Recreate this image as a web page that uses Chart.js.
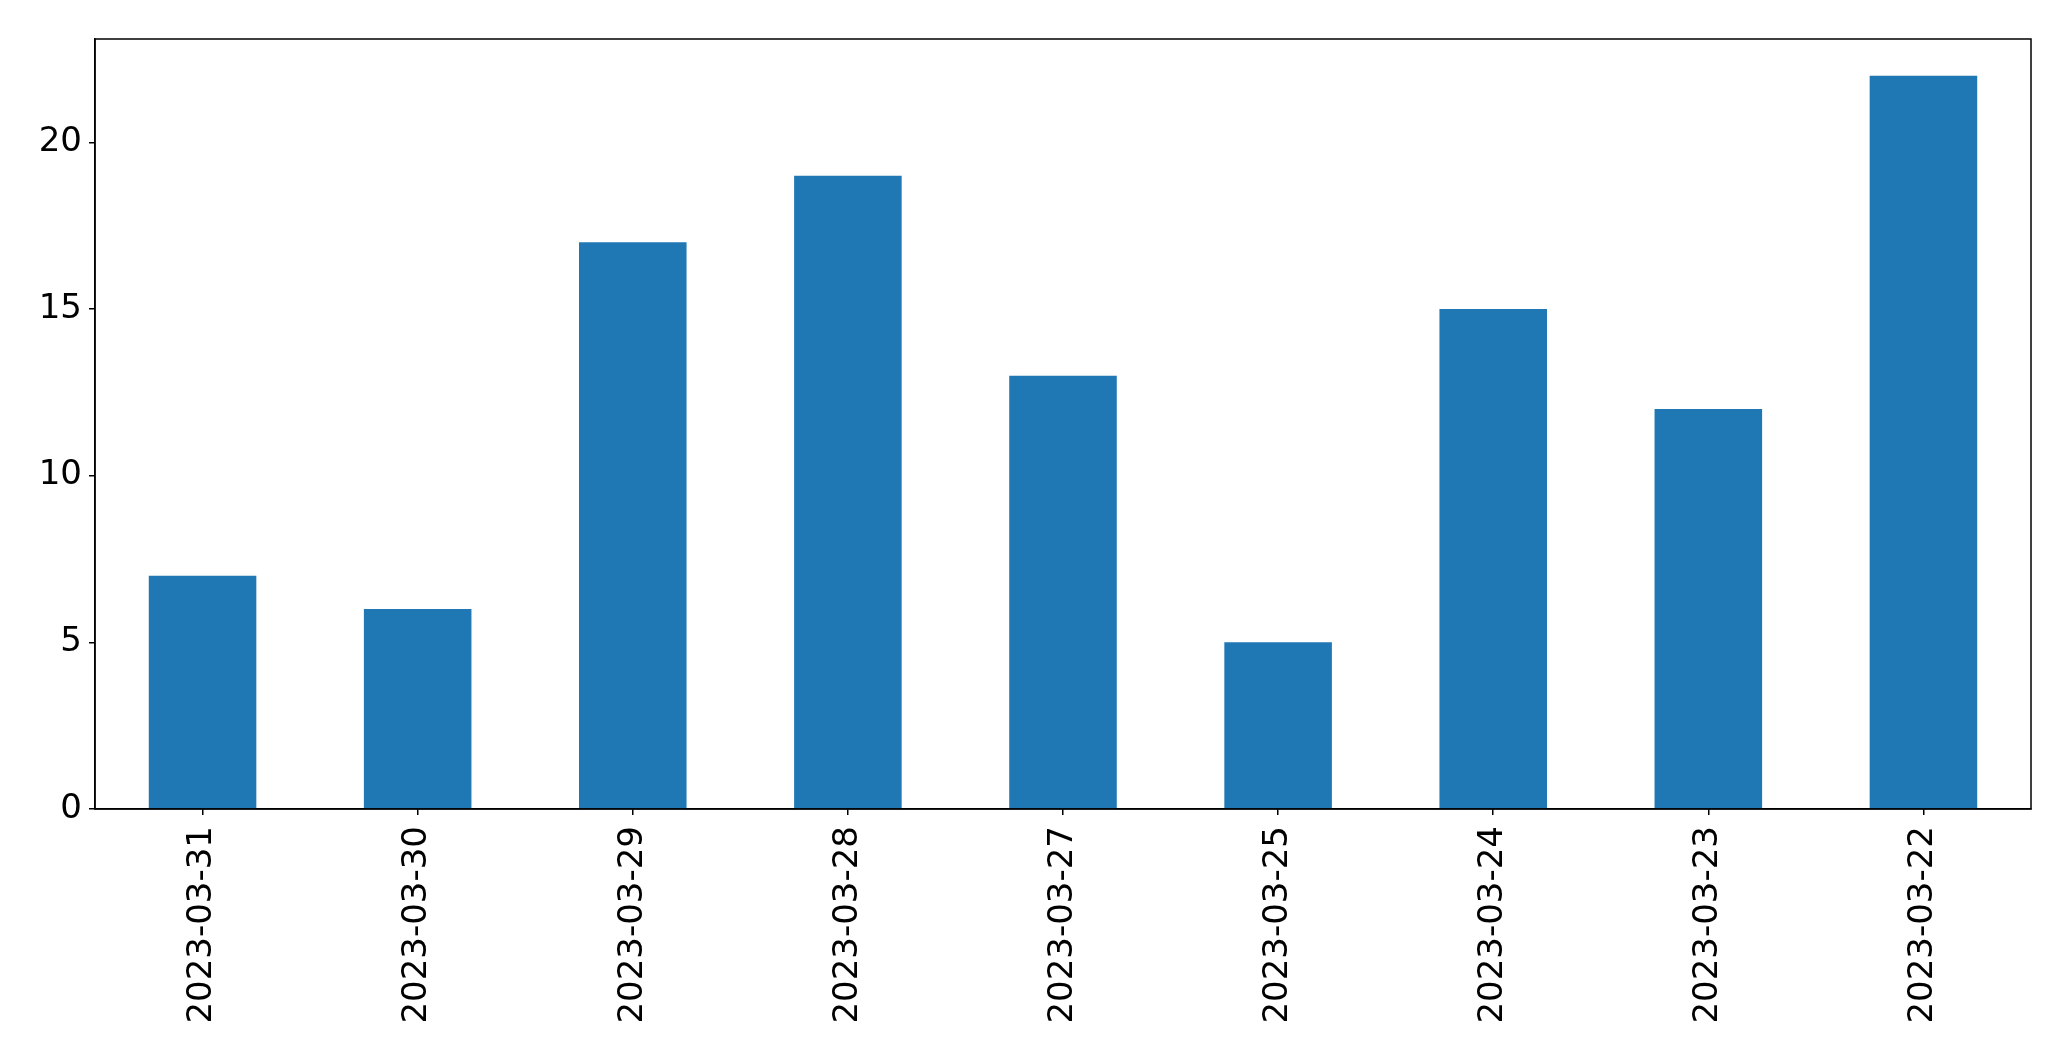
<!DOCTYPE html>
<html>
<head>
<meta charset="utf-8">
<script src="https://cdn.jsdelivr.net/npm/chart.js@4/dist/chart.umd.min.js"></script>
<style>
html,body{margin:0;padding:0;background:#fff;overflow:hidden}
canvas{display:block}
</style>
</head>
<body>
<canvas id="c" width="2071" height="1061" style="width:2071px;height:1061px"></canvas>
<script>
const categories = ["2023-03-31","2023-03-30","2023-03-29","2023-03-28","2023-03-27","2023-03-25","2023-03-24","2023-03-23","2023-03-22"];
const values = [7, 6, 17, 19, 13, 5, 15, 12, 22];
const yTicks = [0, 5, 10, 15, 20];

const frame = {
  id: 'frame',
  afterDraw(chart) {
    const a = chart.chartArea, ctx = chart.ctx;
    ctx.save();
    ctx.strokeStyle = '#000';
    ctx.lineWidth = 1.5;
    ctx.strokeRect(a.left, a.top, a.right - a.left, a.bottom - a.top);
    ctx.restore();
  }
};

new Chart(document.getElementById('c'), {
  type: 'bar',
  data: {
    labels: categories,
    datasets: [{
      data: values,
      backgroundColor: '#1f77b4',
      borderWidth: 0,
      barPercentage: 0.5,
      categoryPercentage: 1.0
    }]
  },
  options: {
    responsive: false,
    devicePixelRatio: 1,
    animation: false,
    layout: { padding: { left: 0, top: 39, right: 40, bottom: 0 } },
    plugins: { legend: { display: false }, tooltip: { enabled: false } },
    scales: {
      x: {
        offset: true,
        grid: { display: true, drawOnChartArea: false, drawTicks: true, tickLength: 6, color: '#000', lineWidth: 1.5, offset: false },
        border: { display: true, color: '#000', width: 1.5 },
        ticks: {
          color: '#000',
          font: { family: 'DejaVu Sans', size: 34 },
          minRotation: 90, maxRotation: 90,
          padding: 11,
          autoSkip: false
        },
        afterFit(scale) { scale.height = 252; }
      },
      y: {
        min: 0,
        max: 23.1,
        grid: { display: true, drawOnChartArea: false, drawTicks: true, tickLength: 6, color: '#000', lineWidth: 1.5 },
        border: { display: true, color: '#000', width: 1.5 },
        afterBuildTicks(scale) { scale.ticks = yTicks.map(v => ({ value: v })); },
        ticks: {
          color: '#000',
          font: { family: 'DejaVu Sans', size: 34 },
          padding: 7
        },
        afterFit(scale) { scale.width = 95; }
      }
    }
  },
  plugins: [frame]
});
</script>
</body>
</html>
